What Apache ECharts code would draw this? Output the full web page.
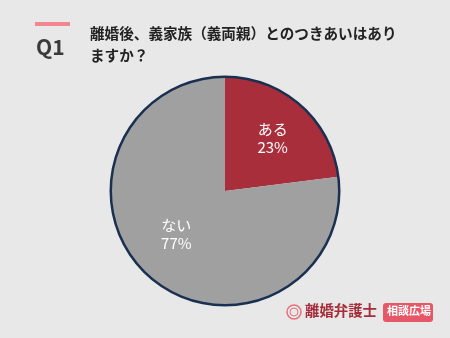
<!DOCTYPE html>
<html><head><meta charset="utf-8">
<script src="https://cdn.jsdelivr.net/npm/echarts@6/dist/echarts.min.js"></script>
<style>html,body{margin:0;padding:0;background:#e8e8e8}#c{width:450px;height:338px}</style>
</head><body><div id="c"></div>
<script>
const categories = ['ある', 'ない'];
const values = [23, 77];
const colors = ['#a82e3b', '#a0a0a0'];
const labelOffsets = [[8, -8], [-9, -2]];

const chart = echarts.init(document.getElementById('c'));
const font = '"Noto Sans CJK JP", "Noto Sans", sans-serif';
chart.setOption({
  backgroundColor: '#e8e8e8',
  animation: false,
  graphic: [
    {type: 'rect', shape: {x: 35, y: 22, width: 35, height: 4}, style: {fill: '#f2878f'}},
    {type: 'text', left: 36, top: 37, style: {text: 'Q1', font: 'bold 21px ' + font, fill: '#3a3a3a'}},
    {type: 'text', left: 90, top: 22, style: {text: '離婚後、義家族（義両親）とのつきあいはあり\nますか？', font: 'bold 14.6px ' + font, fill: '#222', lineHeight: 22}},
    {type: 'circle', shape: {cx: 294, cy: 312, r: 7}, style: {fill: 'none', stroke: '#e8707a', lineWidth: 1.5}},
    {type: 'circle', shape: {cx: 294, cy: 312, r: 4}, style: {fill: 'none', stroke: '#e8707a', lineWidth: 1}},
    {type: 'text', left: 305, top: 303, style: {text: '離婚弁護士', font: 'bold 14.4px ' + font, fill: '#a52d3a'}},
    {type: 'rect', shape: {x: 383, y: 303, width: 50, height: 19, r: 3}, style: {fill: '#e65868'}},
    {type: 'text', left: 387, top: 305, style: {text: '相談広場', font: 'bold 11px ' + font, fill: '#fff'}}
  ],
  series: [{
    type: 'pie',
    center: [225, 191],
    radius: ['0%', 114],
    startAngle: 90,
    clockwise: true,
    silent: true,
    itemStyle: {borderWidth: 0},
    label: {position: 'inside', color: '#fff', fontSize: 15, fontFamily: font, lineHeight: 18,
      formatter: p => p.name + '\n' + p.value + '%'},
    labelLine: {show: false},
    data: categories.map((c, i) => ({name: c, value: values[i], itemStyle: {color: colors[i]}, label: {offset: labelOffsets[i]}}))
  }, {
    type: 'pie',
    center: [225, 191],
    radius: [113, 115.5],
    silent: true,
    label: {show: false},
    itemStyle: {color: '#1a3050'},
    data: [{value: 1}]
  }]
});
</script></body></html>
